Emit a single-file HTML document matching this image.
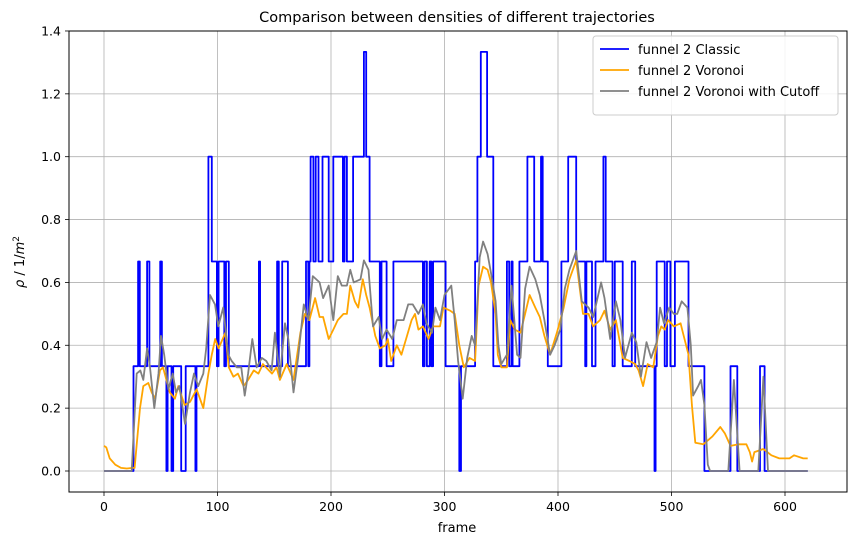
<!DOCTYPE html>
<html><head><meta charset="utf-8"><style>
body{margin:0;background:#fff;}
svg{display:block;font-family:"DejaVu Sans","Liberation Sans",sans-serif;}
</style></head><body>
<svg id="chart" width="854" height="545" viewBox="0 0 854 545" xmlns="http://www.w3.org/2000/svg">
<rect width="854" height="545" fill="#fff"/>
<text x="457" y="22" text-anchor="middle" font-size="14.5">Comparison between densities of different trajectories</text>
<g id="grid"></g>
<g id="series"></g>
<rect x="69" y="31" width="778" height="461" fill="none" stroke="#000" stroke-width="1"/>
<g id="ticks"></g>
<text x="457" y="532" text-anchor="middle" font-size="13">frame</text>
<text transform="translate(24,262) rotate(-90)" text-anchor="middle" font-size="13"><tspan font-style="italic">ρ</tspan> / 1/<tspan font-style="italic">m</tspan><tspan font-size="9" dy="-5">2</tspan></text>
<g id="legend">
<rect x="593" y="36" width="245" height="79" rx="3" fill="#fff" fill-opacity="0.85" stroke="#ccc"/>
<line x1="600" y1="49" x2="629" y2="49" stroke="#0000ff" stroke-width="1.8"/>
<text x="638" y="54" font-size="13">funnel 2 Classic</text>
<line x1="600" y1="70" x2="629" y2="70" stroke="#ffa500" stroke-width="1.8"/>
<text x="638" y="75" font-size="13">funnel 2 Voronoi</text>
<line x1="600" y1="91" x2="629" y2="91" stroke="#808080" stroke-width="1.8"/>
<text x="638" y="96" font-size="13">funnel 2 Voronoi with Cutoff</text>
</g>
</svg>
<script>
const xTicks=[0,100,200,300,400,500,600];
const yTicks=[0,0.2,0.4,0.6,0.8,1.0,1.2,1.4];
const yTickLabels=["0.0","0.2","0.4","0.6","0.8","1.0","1.2","1.4"];
const classicFrames=[0,26,30,31.5,38,40,49.5,51,55,56,59.5,61,68,72,80.5,81.5,92,95,99.5,101,106,107.5,110,136.5,137.5,152.5,154,157,162,178,180,181,182,184.5,186.5,189,192.5,198,202,210.5,212,214,219.5,229,231,234,243,244.5,249,255,281,282.5,284.5,287,288.5,290,301,313,314.5,327,329,332,337.5,343,355,357,359,360,366,373,379,385,386.5,391,403,409,416,424,425,430,433,440,442,448,450,457,465,468,485,486,487,494,496,499,503,515,529,552,558,578,582,620];
const T=1/3,W=2/3;
const classicValues=[0,T,W,T,W,T,W,T,0,T,0,T,0,T,0,T,1,W,T,W,T,W,T,W,T,W,T,W,T,W,T,W,1,W,1,W,1,W,1,W,1,W,1,4/3,1,W,T,W,T,W,T,W,T,W,T,W,T,0,T,W,1,4/3,1,T,W,T,W,T,W,1,W,1,W,T,W,1,W,T,W,T,W,1,W,T,W,T,W,T,0,T,W,T,W,T,W,T,0,T,0,T,0,0];
const voronoiFrames=[0,2,5,10,15,20,25,27,31.7,34.6,39,42,45,49.3,52,58,62.5,65.5,71,75.8,81.6,87.5,92,95,98,101,107,110,114,118,123,127,132,136,140,148,152,155,161,167,173,177,181,186,190,193,198,202,206,211,214,217,221,224,228,231,234,239,243,248,250,253,258,262,267,271,274,277,281,286,290,296,299,305,309,313,317,322,327,330,334,338,341,345,347,350,355,358,362,367,371,375,380,384,388,393,399,405,410,416,422,427,431,437,441,446,451,457,463,468,471,475,479,484,488,491,494,497,502,508,510,515,518,521,528,536,543,547,552,559,566,569,571,573,581,588,595,604,608,616,620];
const voronoiValues=[0.08,0.075,0.04,0.02,0.01,0.008,0.01,0.01,0.2,0.27,0.28,0.25,0.23,0.32,0.33,0.25,0.23,0.27,0.21,0.22,0.26,0.2,0.31,0.37,0.42,0.39,0.44,0.33,0.3,0.31,0.27,0.29,0.32,0.31,0.34,0.31,0.33,0.29,0.34,0.29,0.44,0.5,0.48,0.55,0.49,0.49,0.42,0.45,0.48,0.5,0.5,0.59,0.54,0.52,0.61,0.56,0.52,0.43,0.39,0.4,0.42,0.35,0.4,0.37,0.43,0.48,0.5,0.45,0.46,0.42,0.46,0.46,0.52,0.51,0.5,0.4,0.33,0.36,0.35,0.59,0.65,0.64,0.6,0.5,0.37,0.33,0.33,0.48,0.45,0.44,0.5,0.56,0.52,0.49,0.43,0.37,0.44,0.52,0.61,0.67,0.5,0.5,0.46,0.48,0.51,0.45,0.48,0.36,0.35,0.34,0.32,0.27,0.34,0.33,0.43,0.46,0.45,0.48,0.46,0.47,0.44,0.37,0.21,0.09,0.085,0.11,0.14,0.12,0.08,0.085,0.085,0.06,0.03,0.06,0.07,0.05,0.04,0.04,0.05,0.04,0.04];
const cutoffFrames=[0,24.4,28.8,32,34.6,38,40.5,44.3,48,50.2,53,56.7,60.5,63.4,66.4,71.4,75.8,79.3,83,87.5,90,93.4,97.8,100.7,105,109.5,112.5,117,121,124,127,130.7,134.5,139,143,147.7,150.6,155,159.5,162.4,167,171,176,180,184,190,193,198,202,206,209.5,214,217,220,226,229,233,237,242,245,249,254,258,264,268,272,277,281,284,289,292,296,300,306,309,312,316,320,324,327,331,334,338,341,345,347.5,350,355,359,364,367,371,375,380,384,388,393,397,402,406,410,416,421,427,431,438,441,446,451,455,459,465,469,473,478,482,487,490,493.4,498,502,505,509,514,517,519,523.5,526,529,532,534,550,555,560,576.5,581,585,620];
const cutoffValues=[0,0,0.31,0.32,0.29,0.39,0.33,0.2,0.31,0.43,0.37,0.26,0.31,0.25,0.27,0.15,0.25,0.31,0.27,0.31,0.39,0.56,0.53,0.46,0.52,0.37,0.35,0.33,0.33,0.24,0.31,0.42,0.33,0.36,0.35,0.32,0.44,0.3,0.47,0.42,0.25,0.36,0.53,0.48,0.62,0.6,0.55,0.59,0.48,0.62,0.59,0.59,0.64,0.6,0.61,0.67,0.64,0.46,0.49,0.42,0.45,0.42,0.48,0.48,0.53,0.53,0.5,0.53,0.47,0.44,0.52,0.48,0.56,0.59,0.48,0.35,0.23,0.36,0.43,0.4,0.68,0.73,0.69,0.63,0.54,0.4,0.34,0.37,0.59,0.37,0.36,0.58,0.65,0.61,0.56,0.48,0.37,0.4,0.45,0.58,0.64,0.7,0.54,0.52,0.49,0.6,0.55,0.42,0.54,0.48,0.36,0.44,0.41,0.3,0.41,0.36,0.41,0.52,0.47,0.52,0.5,0.5,0.54,0.52,0.4,0.24,0.27,0.29,0.21,0.02,0,0,0.29,0,0,0.3,0,0];

const X0=104,XS=1.135,Y0=471,YS=314.3;
function xScale(f){return X0+f*XS;}
function yScale(v){return Y0-v*YS;}
const NS="http://www.w3.org/2000/svg";
const grid=document.getElementById('grid'),ticks=document.getElementById('ticks'),series=document.getElementById('series');
function mk(tag,attrs,parent){const e=document.createElementNS(NS,tag);for(const k in attrs)e.setAttribute(k,attrs[k]);parent.appendChild(e);return e;}
xTicks.forEach(t=>{const x=xScale(t);
 const g=mk('line',{x1:x,x2:x,y1:31,y2:492,stroke:'#b0b0b0','stroke-width':0.8},grid);
 
 
 mk('line',{x1:x,x2:x,y1:492,y2:496,stroke:'#000','stroke-width':0.8},ticks);
 const tx=mk('text',{x:x,y:511,'text-anchor':'middle','font-size':12.5},ticks);tx.textContent=t;
 
 
});
yTicks.forEach((t,i)=>{const y=yScale(t);
 const g=mk('line',{x1:69,x2:847,y1:y,y2:y,stroke:'#b0b0b0','stroke-width':0.8},grid);
 
 
 mk('line',{x1:65,x2:69,y1:y,y2:y,stroke:'#000','stroke-width':0.8},ticks);
 const tx=mk('text',{x:61,y:y+4.5,'text-anchor':'end','font-size':12.5},ticks);tx.textContent=yTickLabels[i];
 
 
});
function linePath(fr,vals){return fr.map((f,i)=>(i?'L':'M')+xScale(f).toFixed(1)+','+yScale(vals[i]).toFixed(1)).join('');}
function stepPath(fr,vals){let d='M'+xScale(fr[0])+','+yScale(vals[0]);for(let i=1;i<fr.length;i++){d+='L'+xScale(fr[i]).toFixed(1)+','+yScale(vals[i-1]).toFixed(1)+'L'+xScale(fr[i]).toFixed(1)+','+yScale(vals[i]).toFixed(1);}return d;}
const p1=mk('path',{d:stepPath(classicFrames,classicValues),fill:'none',stroke:'#0000ff','stroke-width':1.8,'stroke-linejoin':'round'},series);


const p2=mk('path',{d:linePath(voronoiFrames,voronoiValues),fill:'none',stroke:'#ffa500','stroke-width':1.8,'stroke-linejoin':'round'},series);


const p3=mk('path',{d:linePath(cutoffFrames,cutoffValues),fill:'none',stroke:'#808080','stroke-width':1.8,'stroke-linejoin':'round'},series);


</script>
</body></html>
